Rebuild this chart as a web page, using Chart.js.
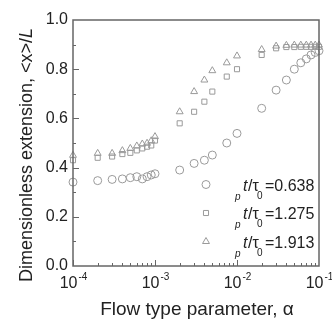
<!DOCTYPE html>
<html>
<head>
<meta charset="utf-8">
<script src="https://cdn.jsdelivr.net/npm/chart.js@4.4.0/dist/chart.umd.min.js"></script>
<style>
html, body { margin: 0; padding: 0; background: #fff; }
.wrap { width: 332px; height: 321px; }
</style>
</head>
<body>
<div class="wrap"><canvas id="myChart"></canvas></div>
<script>
// flow type parameter values (same for the three series)
const alpha = [1e-4, 2e-4, 3e-4, 4e-4, 5e-4, 6e-4, 7e-4, 8e-4, 9e-4, 1e-3,
    2e-3, 3e-3, 4e-3, 5e-3, 7.5e-3, 1e-2,
    2e-2, 3e-2, 4e-2, 5e-2, 6e-2, 7e-2, 8e-2, 9e-2, 1e-1];

// dimensionless extension <x>/L
const ext0638 = [0.341, 0.347, 0.352, 0.354, 0.359, 0.363, 0.354, 0.363, 0.370, 0.375,
    0.390, 0.417, 0.430, 0.451, 0.500, 0.539,
    0.641, 0.715, 0.756, 0.800, 0.826, 0.842, 0.858, 0.868, 0.875];
const ext1275 = [0.430, 0.440, 0.445, 0.455, 0.460, 0.470, 0.478, 0.485, 0.490, 0.510,
    0.580, 0.627, 0.668, 0.709, 0.770, 0.800,
    0.858, 0.885, 0.890, 0.890, 0.891, 0.891, 0.891, 0.891, 0.891];
const ext1913 = [0.450, 0.458, 0.458, 0.469, 0.478, 0.488, 0.496, 0.499, 0.509, 0.526,
    0.627, 0.709, 0.756, 0.794, 0.826, 0.854,
    0.880, 0.894, 0.897, 0.898, 0.898, 0.898, 0.898, 0.898, 0.898];

const ratios = ['0.638', '1.275', '1.913'];
const markers = ['circle', 'rect', 'triangle'];
const decades = [1e-4, 1e-3, 1e-2, 1e-1];
const decadeExp = ['-4', '-3', '-2', '-1'];

const markGray = '#9a9a9a';
const axisGray = '#666';
const textCol = '#222';
const fontFam = 'Arial, "Liberation Sans", sans-serif';

function toPoints(ys) {
    return alpha.map(function (a, i) { return { x: a, y: ys[i] }; });
}

const series = [ext0638, ext1275, ext1913];
const datasets = series.map(function (ys, i) {
    return {
        label: 't_p/τ_0=' + ratios[i],
        data: toPoints(ys),
        pointStyle: markers[i],
        pointRadius: i === 1 ? 3.6 : 4,
        pointBorderWidth: 1,
        pointBorderColor: markGray,
        pointBackgroundColor: 'rgba(0,0,0,0)',
        showLine: false,
        clip: false
    };
});

// frame, inward ticks, decade labels, titles and legend
const decor = {
    id: 'decor',
    afterDraw(chart) {
        const ctx = chart.ctx;
        const a = chart.chartArea;
        const x = chart.scales.x;
        const y = chart.scales.y;
        ctx.save();
        ctx.strokeStyle = axisGray;
        ctx.lineWidth = 1.5;
        ctx.strokeRect(a.left, a.top, a.right - a.left, a.bottom - a.top);

        ctx.lineWidth = 1;
        ctx.beginPath();
        for (let v = 1; v < 10; v++) {
            const py = Math.round(y.getPixelForValue(v / 10)) + 0.5;
            const len = v % 2 ? 3 : 6;
            ctx.moveTo(a.left, py);
            ctx.lineTo(a.left + len, py);
        }
        for (let e = -4; e < -1; e++) {
            for (let m = 1; m <= 9; m++) {
                const px = Math.round(x.getPixelForValue(m * Math.pow(10, e))) + 0.5;
                const len = m === 1 ? 6 : 3;
                ctx.moveTo(px, a.bottom);
                ctx.lineTo(px, a.bottom - len);
            }
        }
        ctx.stroke();

        // x tick labels 10^n
        ctx.fillStyle = textCol;
        ctx.textBaseline = 'alphabetic';
        decades.forEach(function (d, i) {
            const px = x.getPixelForValue(d);
            ctx.font = '16px ' + fontFam;
            const w1 = ctx.measureText('10').width;
            ctx.font = '10px ' + fontFam;
            const w2 = ctx.measureText(decadeExp[i]).width;
            const x0 = px - (w1 + w2) / 2;
            ctx.font = '16px ' + fontFam;
            ctx.textAlign = 'left';
            ctx.fillText('10', x0, a.bottom + 22);
            ctx.font = '10px ' + fontFam;
            ctx.fillText(decadeExp[i], x0 + w1 + 1, a.bottom + 14);
        });

        // x title
        ctx.font = '19px ' + fontFam;
        ctx.textAlign = 'center';
        ctx.textBaseline = 'middle';
        ctx.fillText('Flow type parameter, α', (a.left + a.right) / 2 + 1, 310);

        // y title (rotated)
        ctx.save();
        ctx.translate(27, 155);
        ctx.rotate(-Math.PI / 2);
        ctx.font = '18px ' + fontFam;
        const main = 'Dimensionless extension, <x>/';
        const wMain = ctx.measureText(main).width;
        ctx.font = 'italic 18px ' + fontFam;
        const wL = ctx.measureText('L').width;
        const sx = -(wMain + wL) / 2;
        ctx.textAlign = 'left';
        ctx.font = '18px ' + fontFam;
        ctx.fillText(main, sx, 0);
        ctx.font = 'italic 18px ' + fontFam;
        ctx.fillText('L', sx + wMain, 0);
        ctx.restore();

        // legend inside plot
        const rows = [184.5, 213, 241.5];
        chart.data.datasets.forEach(function (ds, i) {
            const ry = rows[i];
            ctx.strokeStyle = markGray;
            ctx.fillStyle = 'rgba(0,0,0,0)';
            ctx.lineWidth = 1;
            Chart.helpers.drawPoint(ctx, {
                pointStyle: ds.pointStyle,
                radius: ds.pointRadius,
                borderWidth: 1,
                rotation: 0
            }, 206, ry);
            ctx.textAlign = 'left';
            ctx.textBaseline = 'alphabetic';
            ctx.fillStyle = textCol;
            ctx.font = 'italic 16px ' + fontFam;
            ctx.fillText('t', 243, ry + 6);
            ctx.font = 'italic 10px ' + fontFam;
            ctx.fillText('p', 235, ry + 15);
            ctx.font = '16px ' + fontFam;
            ctx.fillText('/τ', 248, ry + 6);
            ctx.font = '10px ' + fontFam;
            ctx.fillText('0', 257, ry + 14);
            ctx.font = '16px ' + fontFam;
            ctx.fillText('=' + ratios[i], 265, ry + 6);
        });
        ctx.restore();
    }
};

const ctx = document.getElementById('myChart');

new Chart(ctx, {
    type: 'scatter',
    data: { datasets: datasets },
    options: {
        responsive: true,
        maintainAspectRatio: false,
        animation: false,
        layout: {
            autoPadding: false,
            padding: { top: 20, right: 13, left: 0, bottom: 0 }
        },
        scales: {
            x: {
                type: 'logarithmic',
                min: 1e-4,
                max: 1e-1,
                grid: { display: false },
                border: { display: false },
                ticks: { display: false },
                afterFit: function (s) { s.height = 55; }
            },
            y: {
                min: 0,
                max: 1,
                grid: { display: false, drawTicks: false },
                border: { display: false },
                ticks: {
                    stepSize: 0.2,
                    padding: 5,
                    color: textCol,
                    font: { size: 16, family: fontFam },
                    callback: function (v) { return Number(v).toFixed(1); }
                },
                afterFit: function (s) { s.width = 73; }
            }
        },
        plugins: {
            legend: { display: false },
            tooltip: { enabled: false }
        }
    },
    plugins: [decor]
}
);
</script>
</body>
</html>
